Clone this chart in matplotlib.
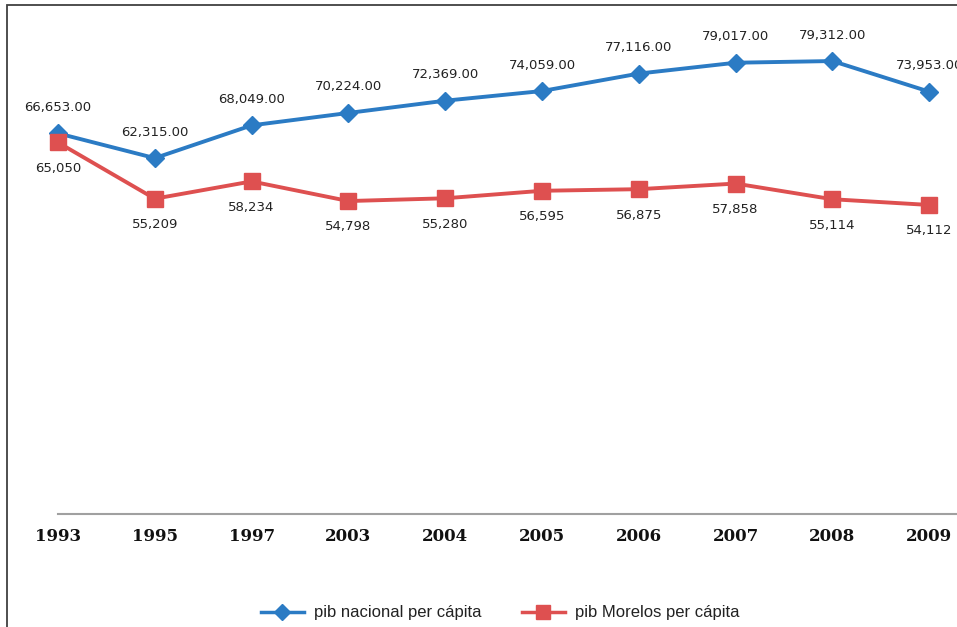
"""Line chart: PIB per cápita nacional vs Morelos."""

import matplotlib.pyplot as plt
from matplotlib.lines import Line2D
from matplotlib.patches import Rectangle

years = ["1993", "1995", "1997", "2003", "2004", "2005", "2006", "2007", "2008", "2009"]
pib_nacional = [66653, 62315, 68049, 70224, 72369, 74059, 77116, 79017, 79312, 73953]
pib_morelos = [65050, 55209, 58234, 54798, 55280, 56595, 56875, 57858, 55114, 54112]

blue = "#2B7BC4"
red = "#DE5050"

W, H = 957, 627
fig = plt.figure(figsize=(W / 100, H / 100), dpi=100)

# outer chart frame (cropped on the right and bottom)
fig.patches.append(
    Rectangle((7 / W, -0.05), 1.2, 1 - 5 / H + 0.05, transform=fig.transFigure,
              fill=False, edgecolor="#404040", linewidth=1.3)
)

# plot area: category 0 at x=58px, spacing ~96.8px; value 0 at y=514px
step = 96.8
left = 58 / W
ax = fig.add_axes([left, 1 - 514 / H, 1 - left, 514 / H])
ax.set_xlim(0, (W - 58) / step)
ax.set_ylim(0, 90000)

x = list(range(len(years)))
ax.plot(x, pib_nacional, color=blue, lw=2.8, marker="D", ms=9, zorder=3, clip_on=False)
ax.plot(x, pib_morelos, color=red, lw=2.8, marker="s", ms=11, zorder=3, clip_on=False)

for xi, v in zip(x, pib_nacional):
    ax.annotate(f"{v:,.2f}", (xi, v), xytext=(0, 14), textcoords="offset points",
                ha="center", va="bottom", fontsize=9.5, color="#222222",
                annotation_clip=False)
for xi, v in zip(x, pib_morelos):
    ax.annotate(f"{v:,}", (xi, v), xytext=(0, -14), textcoords="offset points",
                ha="center", va="top", fontsize=9.5, color="#222222",
                annotation_clip=False)

for s in ["top", "right", "left"]:
    ax.spines[s].set_visible(False)
ax.spines["bottom"].set_color("#A0A0A0")
ax.spines["bottom"].set_linewidth(1.5)
ax.set_yticks([])
ax.set_xticks(x)
ax.set_xticklabels(years, fontfamily="DejaVu Serif", fontweight="bold", fontsize=12)
ax.tick_params(axis="x", length=0, pad=10, colors="#111111")
ax.patch.set_visible(False)

handles = [
    Line2D([], [], color=blue, lw=2.5, marker="D", ms=8),
    Line2D([], [], color=red, lw=2.5, marker="s", ms=10),
]
fig.legend(handles, ["pib nacional per cápita", "pib Morelos per cápita"],
           loc="center", bbox_to_anchor=(500 / W, 1 - 613 / H), ncol=2,
           frameon=False, prop={"family": "Liberation Sans", "size": 12},
           handlelength=2.6, columnspacing=2.4, handletextpad=0.6,
           labelcolor="#222222")

fig.savefig("out.png", dpi=100)
